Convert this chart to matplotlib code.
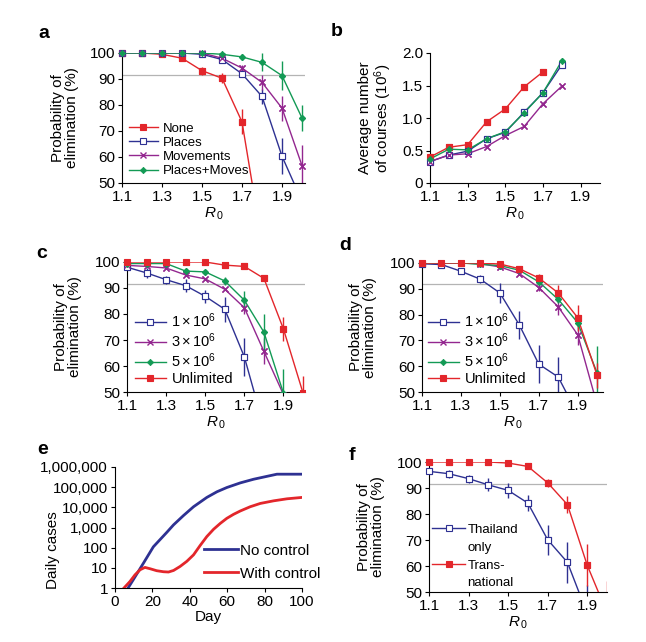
import numpy as np
import matplotlib
matplotlib.use('Agg')
import matplotlib.pyplot as plt
from matplotlib.lines import Line2D
from matplotlib.ticker import FuncFormatter, FixedLocator, NullLocator

plt.rcParams['font.family'] = ['Liberation Sans', 'DejaVu Sans']
plt.rcParams['mathtext.fontset'] = 'custom'
plt.rcParams['mathtext.rm'] = 'Liberation Sans'
plt.rcParams['mathtext.it'] = 'Liberation Sans:italic'
plt.rcParams['font.size'] = 11

# ---------------- data ----------------
r0 = [1.1, 1.2, 1.3, 1.4, 1.5, 1.6, 1.7, 1.8, 1.9, 2.0]
r0_ticks = [1.1, 1.3, 1.5, 1.7, 1.9]
threshold = 91.7

# panel a
a_none = [100, 100, 99.5, 98, 93.2, 90.3, 73.5, 27, np.nan, np.nan]
a_none_err = [0, 0, 0, 0, 1.5, 2, 4.8, 0, 0, 0]
a_places = [100, 100, 100, 100, 99.5, 97.5, 92, 83.3, 60.3, 43]
a_places_err = [0, 0, 0, 0, 0, 0, 1, 3, 7, 0]
a_moves = [100, 100, 100, 100, 100, 98, 94.2, 88.7, 78.8, 56.7]
a_moves_err = [0, 0, 0, 0, 0, 0, 1, 3, 4.8, 8]
a_both = [100, 100, 100, 100, 100, 99.5, 98.5, 96.4, 91.3, 75]
a_both_err = [0, 0, 0, 0, 0, 0, 1, 3.5, 5.5, 5]

# panel b
b_none = [0.40, 0.55, 0.59, 0.94, 1.14, 1.48, 1.71, np.nan, np.nan, np.nan]
b_places = [0.33, 0.43, 0.49, 0.68, 0.78, 1.09, 1.39, 1.82, np.nan, np.nan]
b_moves = [0.33, 0.43, 0.45, 0.56, 0.73, 0.87, 1.22, 1.49, np.nan, np.nan]
b_both = [0.37, 0.52, 0.51, 0.68, 0.79, 1.08, 1.39, 1.88, np.nan, np.nan]

# panel c
c_1m = [98, 95.8, 93.2, 90.9, 86.8, 81.8, 63.5, 36.5, np.nan, np.nan]
c_1m_err = [0, 2, 1.5, 2.5, 2.6, 4.8, 7.4, 0, 0, 0]
c_3m = [98.7, 98.3, 97.7, 95, 93.5, 89.5, 82.4, 65.6, 49, np.nan]
c_3m_err = [0, 0, 0, 0, 0, 0, 2.5, 5, 0, 0]
c_5m = [99.4, 99.4, 99.4, 96.5, 96.2, 92.7, 85.3, 73, 49.5, np.nan]
c_5m_err = [0, 0, 0, 0, 0, 1.5, 3.5, 7, 9.5, 0]
c_unl = [100, 100, 100, 100, 100, 98.8, 98.3, 93.7, 74.2, 49.6]
c_unl_err = [0, 0, 0, 0, 0, 0, 0, 1, 4.5, 6.5]

# panel d
d_1m = [99.7, 99.4, 96.8, 93.7, 88.4, 76, 60.8, 55.8, 41.3, np.nan]
d_1m_err = [0, 0, 0, 1.5, 3.9, 5.5, 7.4, 7.7, 0, 0]
d_3m = [100, 100, 100, 99.7, 98.5, 95.9, 90.5, 83, 72.2, 45]
d_3m_err = [0, 0, 0, 0, 0, 0, 1.5, 3, 4, 0]
d_5m = [100, 100, 100, 99.5, 99.0, 97.2, 92.7, 85.9, 76.9, 57.3]
d_5m_err = [0, 0, 0, 0, 0, 0, 0, 1.5, 3, 10.5]
d_unl = [100, 100, 100, 100, 99.6, 97.8, 94.2, 88.4, 78.8, 56.4]
d_unl_err = [0, 0, 0, 0, 0, 0, 1.5, 3, 5, 5]

# panel e
e_day_nc = [7, 9.8, 15.2, 20.5, 27.7, 31.3, 36.6, 42, 49.1, 54.5, 59.8, 67, 74.1, 81.3, 86.6, 100]
e_nc = [1, 2.6, 17, 110, 575, 1350, 3900, 10700, 31000, 59000, 96000, 163000, 247000, 345000,
        440000, 440000]
e_day_wc = [4.8, 8, 10.7, 13.4, 16, 18.8, 22.3, 25.9, 28.6, 31.3, 34.8, 38.4, 42, 45.5, 49.1,
            52.7, 56.3, 59.8, 63.4, 67, 72.3, 77.7, 84.8, 92, 100]
e_wc = [1, 2.1, 4.5, 8, 10.5, 9, 7.2, 6.4, 6.2, 7.4, 11.7, 21, 44, 127, 355, 815, 1600, 2850,
        4500, 6600, 10700, 15600, 21000, 26500, 31000]
e_yticks = [1, 10, 100, 1000, 10000, 100000, 1000000]
e_xticks = [0, 20, 40, 60, 80, 100]

# panel f
f_thai = [96.4, 95.5, 93.6, 91.2, 89.1, 84.2, 70.1, 61.4, 41.7, np.nan]
f_thai_err = [0, 1.5, 1.5, 2.5, 2.9, 3.2, 5.8, 8, 11.1, 0]
f_trans = [100, 100, 100, 100, 99.6, 98.3, 92, 83.6, 60.3, 42]
f_trans_err = [0, 0, 0, 0, 0, 0, 1.5, 3.3, 8, 12.2]

# ---------------- style ----------------
RED = '#e3262b'
BLUE = '#2e3192'
PURPLE = '#93278f'
GREEN = '#139a55'
GREY = '#b4b4b4'

STY = {
    'red': dict(color=RED, marker='s', mfc=RED, ms=4.5, mew=0.8),
    'blue': dict(color=BLUE, marker='s', mfc='white', ms=4.5, mew=0.8),
    'purple': dict(color=PURPLE, marker='x', mfc=PURPLE, ms=4.8, mew=1.0),
    'green': dict(color=GREEN, marker='D', mfc=GREEN, ms=3.2, mew=0.6),
}

W, H = 646, 642
fig = plt.figure(figsize=(W / 100, H / 100), dpi=100)


def add_ax(left, top, right, bottom):
    ax = fig.add_axes([left / W, 1 - bottom / H, (right - left) / W, (bottom - top) / H])
    for s in ('top', 'right'):
        ax.spines[s].set_visible(False)
    for s in ('left', 'bottom'):
        ax.spines[s].set_linewidth(0.8)
    ax.tick_params(direction='out', length=3, width=0.8, pad=2, labelsize=11)
    return ax


def series(ax, x, y, err, key, label, ymin):
    st = STY[key]
    c = st['color']
    y = np.asarray(y, float)
    ax.plot(x, y, color=c, lw=1, marker=st['marker'], mfc=st['mfc'], mec=c,
            ms=st['ms'], mew=st['mew'], label=label, zorder=3)
    if err is not None:
        ax.errorbar(x, y, yerr=err, fmt='none', ecolor=c, elinewidth=1, capsize=0, zorder=2)
    ym = np.ma.masked_less(np.ma.masked_invalid(y), ymin)
    ax.plot(x, ym, ls='none', marker=st['marker'], mfc=st['mfc'], mec=c,
            ms=st['ms'], mew=st['mew'], clip_on=False, zorder=4)


def prob_axes(ax, xmax):
    ax.set_xlim(1.1, xmax)
    ax.set_ylim(50, 100)
    ax.set_yticks([50, 60, 70, 80, 90, 100])
    ax.set_xticks(r0_ticks)
    ax.set_xticklabels([f'{v:.1f}' for v in r0_ticks])
    ax.axhline(threshold, color=GREY, lw=0.9, zorder=1)
    ax.set_xlabel(r'$R_{\,0}$', labelpad=1, fontsize=11)
    ax.set_ylabel('Probability of\nelimination (%)', linespacing=1.0, fontsize=11)


def legend(ax, x0, y0, fs, ls, hl=2.1):
    return ax.legend(loc='lower left', bbox_to_anchor=(x0, y0), frameon=False, borderpad=0,
                     borderaxespad=0, handlelength=hl, handletextpad=0.4, labelspacing=ls,
                     fontsize=fs)


cap_labels = [r'$1\times10^{6}$', r'$3\times10^{6}$', r'$5\times10^{6}$', 'Unlimited']

# ---- a ----
ax = add_ax(122, 53, 305, 183)
prob_axes(ax, 2.015)
series(ax, r0, a_none, a_none_err, 'red', 'None', 50)
series(ax, r0, a_places, a_places_err, 'blue', 'Places', 50)
series(ax, r0, a_moves, a_moves_err, 'purple', 'Movements', 50)
series(ax, r0, a_both, a_both_err, 'green', 'Places+Moves', 50)
legend(ax, 0.038, 0.045, 9.5, 0.15, hl=2.2)
ax.yaxis.set_label_coords(-0.235, 0.5)

# ---- b ----
ax = add_ax(430, 53, 599.5, 183)
ax.set_xlim(1.1, 2.0)
ax.set_ylim(0, 2.0)
ax.set_xticks(r0_ticks)
ax.set_xticklabels([f'{v:.1f}' for v in r0_ticks])
ax.set_yticks([0, 0.5, 1.0, 1.5, 2.0])
ax.set_yticklabels(['0', '0.5', '1.0', '1.5', '2.0'])
series(ax, r0, b_none, None, 'red', 'None', 0)
series(ax, r0, b_places, None, 'blue', 'Places', 0)
series(ax, r0, b_moves, None, 'purple', 'Movements', 0)
series(ax, r0, b_both, None, 'green', 'Places+Moves', 0)
ax.set_xlabel(r'$R_{\,0}$', labelpad=1, fontsize=11)
ax.set_ylabel('Average number\nof courses (10$^6$)', linespacing=1.0, fontsize=11)
ax.yaxis.set_label_coords(-0.212, 0.5)

# ---- c ----
ax = add_ax(127, 262, 305, 392)
prob_axes(ax, 2.01)
series(ax, r0, c_1m, c_1m_err, 'blue', cap_labels[0], 50)
series(ax, r0, c_3m, c_3m_err, 'purple', cap_labels[1], 50)
series(ax, r0, c_5m, c_5m_err, 'green', cap_labels[2], 50)
series(ax, r0, c_unl, c_unl_err, 'red', cap_labels[3], 50)
legend(ax, 0.045, 0.045, 10.5, 0.12)
ax.yaxis.set_label_coords(-0.253, 0.5)

# ---- d ----
ax = add_ax(422, 263, 603, 392)
prob_axes(ax, 2.03)
series(ax, r0, d_1m, d_1m_err, 'blue', cap_labels[0], 50)
series(ax, r0, d_3m, d_3m_err, 'purple', cap_labels[1], 50)
series(ax, r0, d_5m, d_5m_err, 'green', cap_labels[2], 50)
series(ax, r0, d_unl, d_unl_err, 'red', cap_labels[3], 50)
legend(ax, 0.033, 0.045, 10.5, 0.12)
ax.yaxis.set_label_coords(-0.249, 0.5)

# ---- e ----
ax = add_ax(115, 467, 302, 588)
ax.set_yscale('log')
ax.set_xlim(0, 100)
ax.set_ylim(1, 1e6)
ax.plot(e_day_nc, e_nc, color=BLUE, lw=2, label='No control', zorder=3)
ax.plot(e_day_wc, e_wc, color=RED, lw=2, label='With control', zorder=3)
ax.yaxis.set_major_locator(FixedLocator(e_yticks))
ax.yaxis.set_minor_locator(NullLocator())
ax.yaxis.set_major_formatter(FuncFormatter(lambda v, p: f'{int(round(v)):,}'))
ax.set_xticks(e_xticks)
ax.set_xlabel('Day', labelpad=1, fontsize=11)
ax.set_ylabel('Daily cases', fontsize=11)
ax.yaxis.set_label_coords(-0.294, 0.314)
ax.legend(loc='lower left', bbox_to_anchor=(0.476, 0.06), frameon=False, borderpad=0,
          borderaxespad=0, handlelength=2.2, handletextpad=0.15, labelspacing=0.6,
          fontsize=11)

# ---- f ----
ax = add_ax(429, 462, 607, 592)
prob_axes(ax, 2.0)
series(ax, r0, f_thai, f_thai_err, 'blue', 'Thailand', 50)
series(ax, r0, f_trans, f_trans_err, 'red', 'Trans-', 50)
ax.yaxis.set_label_coords(-0.247, 0.5)
h = ax.get_legend_handles_labels()[0]
blank = Line2D([], [], ls='none')
ax.legend([h[0], blank, h[1], blank], ['Thailand', 'only', 'Trans-', 'national'],
          loc='lower left', bbox_to_anchor=(0.017, 0.02), frameon=False, borderpad=0,
          borderaxespad=0, handlelength=2.5, handletextpad=0.2, labelspacing=0.42,
          fontsize=9.5)

# panel letters
for lab, x, y in [('a', 44, 33), ('b', 337, 32), ('c', 42, 254), ('d', 345, 245),
                  ('e', 43, 450), ('f', 352, 456)]:
    fig.text(x / W, 1 - y / H, lab, fontsize=14, fontweight='bold', ha='center', va='center')

fig.savefig('out.png', dpi=100)
